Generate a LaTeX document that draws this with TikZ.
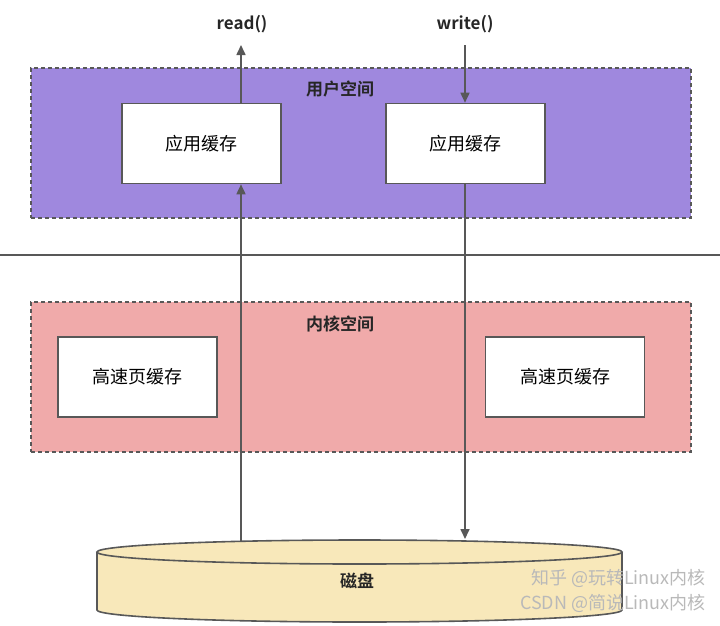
\documentclass[tikz,border=0pt]{standalone}
\usepackage{fontspec}
\setmainfont{Noto Sans CJK SC}[BoldFont={Noto Sans CJK SC Bold}]
\usetikzlibrary{positioning, arrows.meta}
\definecolor{userpurple}{RGB}{159,136,222}
\definecolor{kernelpink}{RGB}{240,170,170}
\definecolor{diskyellow}{RGB}{248,232,186}
\definecolor{edgegray}{RGB}{88,88,88}
\definecolor{markgray}{RGB}{185,185,185}
\tikzset{
  spacebox/.style={draw=edgegray, line width=2pt, dash pattern=on 4pt off 3pt, minimum width=660pt, minimum height=150pt},
  cachebox/.style={draw=edgegray, fill=white, line width=1.6pt, minimum width=159pt, minimum height=80pt, font=\fontsize{18}{21}\selectfont},
  spacetitle/.style={font=\fontsize{17}{20}\selectfont\bfseries, text=black!85},
  calltext/.style={font=\fontsize{17}{20}\selectfont\bfseries, text=black!85},
  flow/.style={draw=edgegray, line width=1.6pt, -{Triangle[length=10pt, width=9pt]}},
  watermark/.style={font=\fontsize{18}{21}\selectfont, text=markgray, anchor=east, inner sep=0pt}
}

\begin{document}
\begin{tikzpicture}[x=1pt, y=-1pt]
    \useasboundingbox (0,0) rectangle (720,625);

    % User space
    \node (user) at (360.5,143) [spacebox, fill=userpurple] {};
    \node (usertitle) at (340,89) [spacetitle] {用户空间};
    \node (appL) at (201.5,143.5) [cachebox] {应用缓存};
    \node (appR) at (465.5,143.5) [cachebox] {应用缓存};

    % Divider
    \draw[edgegray, line width=1.6pt] (0,255) -- (720,255);

    % Kernel space
    \node (kernel) at (361,377) [spacebox, fill=kernelpink] {};
    \node (kerneltitle) at (340,324) [spacetitle] {内核空间};
    \node (pageL) at (137.5,377) [cachebox] {高速页缓存};
    \node (pageR) at (565,377) [cachebox] {高速页缓存};

    % Disk
    \fill[diskyellow] (97,552) -- (97,610) arc[start angle=180, end angle=360, x radius=262.5pt, y radius=12pt]
        -- (622,552) arc[start angle=0, end angle=180, x radius=262.5pt, y radius=12pt] -- cycle;
    \draw[edgegray, line width=1.6pt] (97,552) -- (97,610) arc[start angle=180, end angle=360, x radius=262.5pt, y radius=12pt] -- (622,552);
    \draw[edgegray, line width=1.6pt] (359.5,552) ellipse[x radius=262.5pt, y radius=12pt];
    \node (disk) at (357,581) [spacetitle] {磁盘};
    \coordinate (rdisk) at (241,541);
    \coordinate (wdisk) at (465,539);

    % Calls
    \node (readcall) at (242,24) [calltext] {read()};
    \node (writecall) at (465,24) [calltext] {write()};
    \coordinate (readtip) at (241,45);
    \coordinate (writestart) at (465,45);

    \draw[flow] (rdisk) -- (appL.south -| rdisk);
    \draw[flow] (appL.north -| readtip) -- (readtip);
    \draw[flow] (writestart) -- (appR.north -| writestart);
    \draw[flow] (appR.south -| wdisk) -- (wdisk);

    % Watermarks
    \node (zhihu) at (706,578) [watermark] {知乎 @玩转Linux内核};
    \node (csdn) at (706,603) [watermark] {CSDN @简说Linux内核};
\end{tikzpicture}
\end{document}
